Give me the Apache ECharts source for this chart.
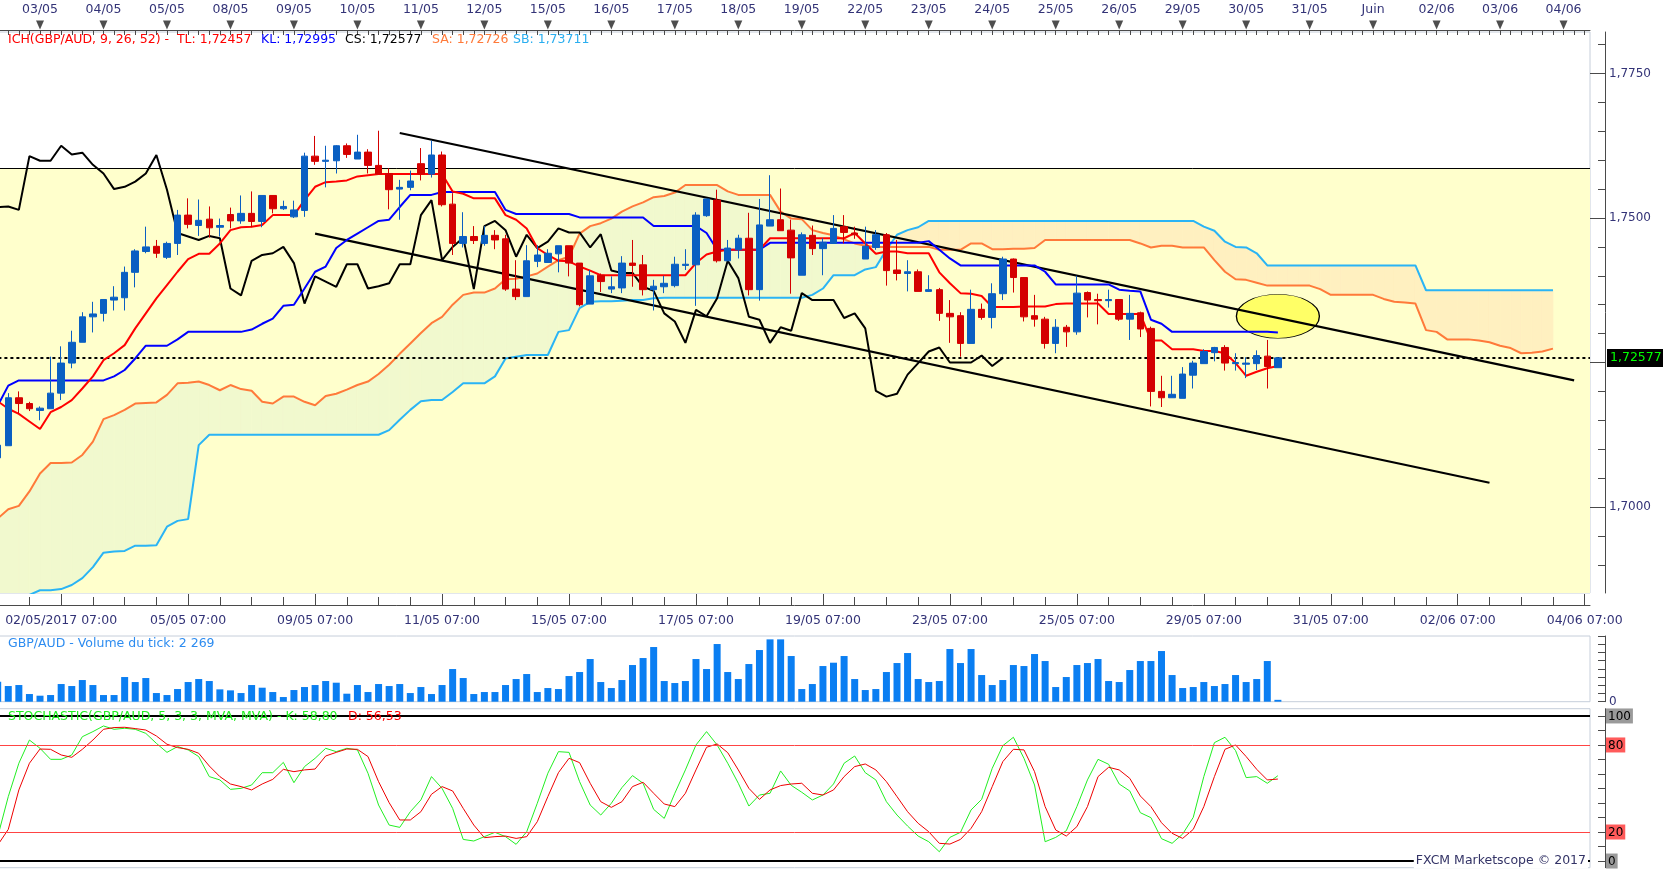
<!DOCTYPE html>
<html><head><meta charset="utf-8">
<script src="https://cdn.jsdelivr.net/npm/echarts@6/dist/echarts.min.js"></script>
<style>html,body{margin:0;padding:0;background:#fff}#c{width:1663px;height:870px}</style>
</head><body><div id="c"></div><script>
// ---- DATA (4-hour candles, index 0 = partially visible first bar) ----
const opens = [1.7085,1.7106,1.7189,1.7179,1.7167,1.7170,1.7197,1.7249,1.7285,1.7329,
1.7335,1.7358,1.7362,1.7406,1.7442,1.7451,1.7432,1.7456,1.7505,1.7487,
1.7498,1.7484,1.7506,1.7495,1.7508,1.7494,1.7539,1.7516,1.7502,1.7513,
1.7607,1.7598,1.7599,1.7625,1.7602,1.7614,1.7591,1.7577,1.7550,1.7553,
1.7594,1.7576,1.7609,1.7524,1.7456,1.7468,1.7456,1.7470,1.7464,1.7377,
1.7364,1.7425,1.7423,1.7438,1.7452,1.7422,1.7351,1.7401,1.7377,1.7379,
1.7422,1.7419,1.7376,1.7381,1.7383,1.7418,1.7419,1.7504,1.7531,1.7426,
1.7445,1.7465,1.7376,1.7486,1.7497,1.7479,1.7401,1.7470,1.7447,1.7456,
1.7485,1.7474,1.7429,1.7449,1.7471,1.7410,1.7404,1.7407,1.7373,1.7376,
1.7335,1.7331,1.7283,1.7342,1.7328,1.7369,1.7429,1.7397,1.7331,1.7325,
1.7283,1.7311,1.7303,1.7371,1.7359,1.7357,1.7359,1.7325,1.7336,1.7309,
1.7200,1.7189,1.7188,1.7228,1.7248,1.7267,1.7276,1.7248,1.7247,1.7248,
1.7261,1.7241];
const closes = [1.7107,1.7189,1.7179,1.7170,1.7171,1.7197,1.7249,1.7285,1.7329,1.7334,
1.7359,1.7363,1.7406,1.7443,1.7450,1.7439,1.7456,1.7505,1.7489,1.7496,
1.7483,1.7487,1.7495,1.7508,1.7494,1.7539,1.7516,1.7520,1.7514,1.7607,
1.7598,1.7600,1.7625,1.7610,1.7614,1.7591,1.7576,1.7549,1.7553,1.7564,
1.7576,1.7609,1.7523,1.7456,1.7468,1.7461,1.7470,1.7462,1.7377,1.7364,
1.7426,1.7436,1.7439,1.7452,1.7422,1.7350,1.7400,1.7390,1.7381,1.7422,
1.7418,1.7376,1.7382,1.7387,1.7420,1.7420,1.7505,1.7533,1.7426,1.7448,
1.7465,1.7376,1.7488,1.7497,1.7478,1.7431,1.7471,1.7447,1.7458,1.7482,
1.7475,1.7471,1.7451,1.7471,1.7409,1.7404,1.7407,1.7373,1.7376,1.7335,
1.7329,1.7283,1.7342,1.7328,1.7369,1.7429,1.7397,1.7329,1.7325,1.7283,
1.7311,1.7303,1.7370,1.7358,1.7357,1.7359,1.7325,1.7335,1.7308,1.7200,
1.7189,1.7195,1.7230,1.7249,1.7269,1.7276,1.7249,1.7250,1.7249,1.7262,
1.7243,1.7258];
const highs = [1.7108,1.7197,1.7200,1.7182,1.7174,1.7260,1.7278,1.7305,1.7337,1.7355,
1.7359,1.7382,1.7416,1.7446,1.7485,1.7462,1.7459,1.7514,1.7534,1.7532,
1.7520,1.7499,1.7518,1.7539,1.7546,1.7539,1.7539,1.7530,1.7530,1.7613,
1.7642,1.7625,1.7626,1.7629,1.7644,1.7619,1.7651,1.7586,1.7566,1.7582,
1.7621,1.7634,1.7615,1.7543,1.7510,1.7486,1.7486,1.7479,1.7471,1.7427,
1.7453,1.7453,1.7446,1.7452,1.7452,1.7422,1.7410,1.7404,1.7399,1.7434,
1.7462,1.7436,1.7393,1.7400,1.7433,1.7446,1.7510,1.7533,1.7549,1.7462,
1.7471,1.7509,1.7533,1.7574,1.7551,1.7497,1.7475,1.7487,1.7465,1.7505,
1.7505,1.7485,1.7485,1.7479,1.7474,1.7462,1.7427,1.7411,1.7401,1.7379,
1.7358,1.7337,1.7376,1.7352,1.7387,1.7433,1.7430,1.7397,1.7367,1.7329,
1.7325,1.7315,1.7400,1.7373,1.7369,1.7376,1.7359,1.7367,1.7338,1.7312,
1.7227,1.7227,1.7242,1.7253,1.7273,1.7277,1.7280,1.7266,1.7259,1.7271,
1.7289,1.7259];
const lows = [1.7080,1.7106,1.7162,1.7166,1.7150,1.7170,1.7185,1.7240,1.7285,1.7302,
1.7321,1.7340,1.7340,1.7380,1.7439,1.7431,1.7429,1.7436,1.7482,1.7469,
1.7466,1.7468,1.7482,1.7490,1.7484,1.7484,1.7508,1.7514,1.7500,1.7502,
1.7592,1.7553,1.7577,1.7604,1.7602,1.7577,1.7576,1.7515,1.7497,1.7548,
1.7565,1.7570,1.7520,1.7436,1.7449,1.7455,1.7452,1.7446,1.7374,1.7358,
1.7364,1.7415,1.7423,1.7406,1.7399,1.7347,1.7351,1.7372,1.7370,1.7370,
1.7381,1.7366,1.7340,1.7370,1.7380,1.7410,1.7348,1.7502,1.7423,1.7426,
1.7430,1.7366,1.7357,1.7486,1.7478,1.7369,1.7401,1.7436,1.7401,1.7455,
1.7456,1.7464,1.7429,1.7445,1.7383,1.7392,1.7373,1.7373,1.7372,1.7322,
1.7284,1.7260,1.7283,1.7324,1.7309,1.7358,1.7371,1.7321,1.7312,1.7274,
1.7266,1.7277,1.7298,1.7328,1.7316,1.7345,1.7322,1.7289,1.7294,1.7174,
1.7173,1.7189,1.7188,1.7205,1.7248,1.7252,1.7236,1.7236,1.7223,1.7237,
1.7205,1.7241];
const tenkan = [1.7183,1.7170,1.7161,1.7148,1.7135,1.7164,1.7173,1.7185,1.7205,1.7226,
1.7254,1.7266,1.7280,1.7309,1.7335,1.7361,1.7384,1.7407,1.7429,1.7438,
1.7438,1.7456,1.7479,1.7484,1.7485,1.7488,1.7505,1.7505,1.7505,1.7531,
1.7554,1.7562,1.7563,1.7565,1.7572,1.7574,1.7576,1.7576,1.7576,1.7576,
1.7576,1.7576,1.7576,1.7546,1.7542,1.7534,1.7534,1.7534,1.7505,1.7497,
1.7482,1.7448,1.7436,1.7426,1.7425,1.7416,1.7409,1.7401,1.7401,1.7401,
1.7401,1.7401,1.7401,1.7401,1.7401,1.7401,1.7422,1.7437,1.7442,1.7445,
1.7445,1.7445,1.7445,1.7465,1.7465,1.7465,1.7465,1.7465,1.7465,1.7465,
1.7465,1.7474,1.7456,1.7438,1.7442,1.7442,1.7439,1.7439,1.7439,1.7406,
1.7387,1.7370,1.7369,1.7365,1.7346,1.7346,1.7346,1.7347,1.7347,1.7347,
1.7351,1.7352,1.7352,1.7352,1.7352,1.7334,1.7334,1.7334,1.7334,1.7288,
1.7288,1.7273,1.7273,1.7273,1.7270,1.7270,1.7266,1.7249,1.7227,1.7234,
1.7240,1.7244];
const kijun = [1.7175,1.7210,1.7219,1.7219,1.7219,1.7219,1.7219,1.7219,1.7219,1.7219,
1.7219,1.7226,1.7237,1.7257,1.7279,1.7279,1.7279,1.7290,1.7303,1.7303,
1.7303,1.7303,1.7303,1.7303,1.7307,1.7317,1.7326,1.7348,1.7350,1.7378,
1.7407,1.7416,1.7448,1.7462,1.7473,1.7484,1.7495,1.7497,1.7519,1.7540,
1.7540,1.7540,1.7545,1.7545,1.7545,1.7545,1.7545,1.7545,1.7514,1.7507,
1.7507,1.7507,1.7507,1.7507,1.7507,1.7501,1.7501,1.7501,1.7501,1.7501,
1.7501,1.7501,1.7486,1.7486,1.7486,1.7486,1.7486,1.7474,1.7445,1.7445,
1.7445,1.7445,1.7445,1.7457,1.7457,1.7457,1.7457,1.7457,1.7457,1.7457,
1.7457,1.7457,1.7457,1.7457,1.7457,1.7457,1.7457,1.7457,1.7460,1.7445,
1.7430,1.7418,1.7418,1.7418,1.7418,1.7418,1.7418,1.7418,1.7418,1.7407,
1.7385,1.7385,1.7385,1.7385,1.7385,1.7385,1.7376,1.7374,1.7373,1.7324,
1.7317,1.7303,1.7303,1.7303,1.7303,1.7303,1.7303,1.7303,1.7303,1.7303,
1.7303,1.7302];
const chikou = [1.7519,1.7520,1.7514,1.7607,1.7599,1.7599,1.7625,1.7610,1.7613,1.7592,
1.7577,1.7550,1.7554,1.7563,1.7577,1.7609,1.7549,1.7474,1.7468,1.7462,
1.7469,1.7465,1.7378,1.7366,1.7426,1.7436,1.7439,1.7450,1.7422,1.7352,
1.7399,1.7390,1.7381,1.7420,1.7420,1.7378,1.7382,1.7387,1.7420,1.7420,
1.7505,1.7531,1.7427,1.7450,1.7466,1.7377,1.7486,1.7495,1.7479,1.7433,
1.7471,1.7448,1.7459,1.7482,1.7475,1.7475,1.7449,1.7472,1.7409,1.7405,
1.7405,1.7381,1.7374,1.7335,1.7321,1.7284,1.7341,1.7330,1.7361,1.7426,
1.7396,1.7329,1.7324,1.7284,1.7311,1.7305,1.7370,1.7358,1.7358,1.7358,
1.7327,1.7335,1.7309,1.7201,1.7191,1.7196,1.7229,1.7249,1.7269,1.7276,
1.7250,1.7250,1.7250,1.7262,1.7244,1.7258];
const senkouA = [1.6980,1.6996,1.7002,1.7027,1.7058,1.7076,1.7076,1.7077,1.7090,1.7113,
1.7152,1.7159,1.7168,1.7179,1.7180,1.7181,1.7194,1.7214,1.7215,1.7217,
1.7211,1.7202,1.7211,1.7204,1.7201,1.7182,1.7179,1.7191,1.7191,1.7182,
1.7176,1.7192,1.7196,1.7203,1.7211,1.7217,1.7230,1.7246,1.7265,1.7283,
1.7301,1.7318,1.7329,1.7350,1.7367,1.7371,1.7371,1.7378,1.7394,1.7395,
1.7399,1.7404,1.7416,1.7427,1.7433,1.7473,1.7486,1.7491,1.7499,1.7511,
1.7520,1.7527,1.7536,1.7538,1.7544,1.7557,1.7557,1.7557,1.7557,1.7546,
1.7540,1.7540,1.7540,1.7540,1.7511,1.7499,1.7498,1.7479,1.7474,1.7470,
1.7463,1.7456,1.7452,1.7450,1.7450,1.7450,1.7450,1.7450,1.7450,1.7445,
1.7445,1.7445,1.7456,1.7456,1.7446,1.7446,1.7447,1.7447,1.7448,1.7462,
1.7462,1.7462,1.7462,1.7462,1.7462,1.7462,1.7462,1.7462,1.7456,1.7449,
1.7452,1.7452,1.7449,1.7449,1.7449,1.7427,1.7407,1.7394,1.7393,1.7388,
1.7383,1.7383,1.7383,1.7383,1.7383,1.7377,1.7367,1.7367,1.7367,1.7367,
1.7367,1.7360,1.7355,1.7354,1.7352,1.7306,1.7303,1.7290,1.7290,1.7290,
1.7288,1.7285,1.7279,1.7275,1.7266,1.7267,1.7269,1.7274];
const senkouB = [1.6840,1.6840,1.6840,1.6848,1.6856,1.6856,1.6858,1.6865,1.6877,1.6896,
1.6921,1.6923,1.6924,1.6933,1.6933,1.6934,1.6966,1.6976,1.6979,1.7107,
1.7125,1.7125,1.7125,1.7125,1.7125,1.7125,1.7125,1.7125,1.7125,1.7125,
1.7125,1.7125,1.7125,1.7125,1.7125,1.7125,1.7125,1.7133,1.7151,1.7168,
1.7183,1.7185,1.7185,1.7199,1.7214,1.7214,1.7214,1.7226,1.7257,1.7260,
1.7263,1.7263,1.7263,1.7303,1.7306,1.7344,1.7355,1.7356,1.7356,1.7357,
1.7358,1.7358,1.7361,1.7362,1.7362,1.7362,1.7362,1.7362,1.7362,1.7362,
1.7362,1.7362,1.7362,1.7362,1.7362,1.7362,1.7362,1.7367,1.7378,1.7401,
1.7401,1.7401,1.7411,1.7415,1.7445,1.7471,1.7479,1.7484,1.7495,1.7495,
1.7495,1.7495,1.7495,1.7495,1.7495,1.7495,1.7495,1.7495,1.7495,1.7495,
1.7495,1.7495,1.7495,1.7495,1.7495,1.7495,1.7495,1.7495,1.7495,1.7495,
1.7495,1.7495,1.7495,1.7495,1.7485,1.7478,1.7459,1.7450,1.7449,1.7439,
1.7418,1.7418,1.7418,1.7418,1.7418,1.7418,1.7418,1.7418,1.7418,1.7418,
1.7418,1.7418,1.7418,1.7418,1.7418,1.7375,1.7375,1.7375,1.7375,1.7375,
1.7375,1.7375,1.7375,1.7375,1.7375,1.7375,1.7375,1.7375];
const volumes = [24350,19080,20300,9340,7310,8120,21510,19080,26380,20300,
8120,8120,30040,23950,28820,10550,8120,15420,23950,27600,
25170,15020,13800,10550,20300,17050,11770,5680,14210,17860,
20300,25170,23140,9740,20300,11770,21510,19080,21510,10550,
17860,9340,20300,39780,28820,9340,11770,11770,20300,27600,
33690,11770,16640,15420,31250,36130,51960,23950,16640,26380,
44650,53170,66570,25170,22730,25170,51960,39780,70220,36130,
27600,45870,62910,75900,75900,55610,15420,21510,43430,47490,
55610,27600,14210,15420,36130,47080,59260,27600,23950,25170,
64130,47080,64130,32470,20300,26380,44650,43430,58040,49520,
17860,30040,44650,47080,51960,25170,23950,38560,49520,49520,
61700,32470,16640,17860,23950,19080,21510,32470,23950,27600,
49520,2269];
const stochK = [16.8,44.4,67.4,83.4,77.7,70.1,70.1,73.1,85.7,89.2,
93.1,90.8,91.5,90.8,88.0,81.1,74.9,78.9,76.6,72.0,
58.2,55.9,49.4,50.1,52.4,60.9,60.9,68.0,54.0,65.1,
70.8,77.7,75.4,77.7,76.6,60.5,38.6,24.8,23.2,34.0,
42.1,58.2,50.1,36.3,14.9,13.8,16.8,19.8,16.8,11.5,
20.2,39.8,60.5,75.4,74.9,54.7,38.6,31.7,39.8,50.6,
58.9,53.6,35.6,29.4,46.7,62.8,80.0,89.2,80.0,67.4,
53.6,37.9,45.5,46.7,62.1,52.2,47.4,42.1,45.5,53.1,
67.4,72.4,60.9,55.9,40.9,31.7,24.1,17.2,13.3,6.4,
16.3,19.8,35.2,42.5,63.9,79.5,85.3,70.8,52.4,13.3,
16.3,20.9,37.5,55.9,70.1,66.7,53.1,48.3,33.3,29.9,
15.4,12.2,18.6,30.1,58.2,81.6,85.3,76.1,57.5,58.2,
53.6,58.8];
const stochD = [11.0,21.8,49.0,67.4,77.2,77.0,73.1,71.5,77.0,83.4,
90.8,92.0,92.2,91.3,90.3,86.2,80.5,78.2,77.0,74.3,
65.5,58.2,53.1,51.3,49.0,53.1,56.3,63.2,61.6,62.8,
63.4,72.4,74.9,77.2,77.0,72.0,54.7,40.2,28.3,28.3,
34.0,46.0,51.3,48.3,36.3,24.8,16.1,16.8,17.2,15.6,
16.8,27.1,44.4,60.9,70.8,67.8,53.6,40.9,37.0,40.9,
51.3,54.3,46.7,39.3,37.5,46.7,62.8,78.4,80.7,74.7,
62.8,50.1,42.5,49.0,52.0,53.1,53.6,46.7,45.5,49.0,
58.2,65.1,66.9,62.8,54.7,44.4,34.0,26.0,20.2,12.2,
11.7,14.9,22.5,34.0,51.3,68.5,77.0,76.6,61.6,37.5,
21.4,17.2,23.7,37.5,58.2,64.6,62.8,57.0,44.8,37.5,
26.4,19.1,15.6,21.8,37.5,58.2,77.0,80.0,72.0,63.2,
55.9,56.5];
const topDayLabels = ['03/05','04/05','05/05','08/05','09/05','10/05','11/05','12/05','15/05','16/05','17/05','18/05','19/05','22/05','23/05','24/05','25/05','26/05','29/05','30/05','31/05','Juin','02/06','03/06','04/06'];
const bottomTimeLabels = ['02/05/2017 07:00','05/05 07:00','09/05 07:00','11/05 07:00','15/05 07:00','17/05 07:00','19/05 07:00','23/05 07:00','25/05 07:00','29/05 07:00','31/05 07:00','02/06 07:00','04/06 07:00'];
const upperTrend = [[38, 1.7647], [149, 1.7219]];
const lowerTrend = [[30, 1.7473], [141, 1.7042]];
const resistance = 1.75865;
const lastPrice = 1.72577;
const highlight = [[121, 1.7330]];
const priceMajorTicks = [1.700, 1.725, 1.750, 1.775];
const priceLabelValues = [1.700, 1.750, 1.775];
const priceMinorTicks = [1.690,1.695,1.700,1.705,1.710,1.715,1.720,1.725,1.730,1.735,1.740,1.745,1.750,1.755,1.760,1.765,1.770,1.775,1.780];
const stochTicks = [0,10,20,30,40,50,60,70,80,90,100];
const stochLabelValues = [0,20,80,100];
const legendIch = [
  {text:'ICH(GBP/AUD, 9, 26, 52) -  TL: 1,72457', color:'#FF0000', x:8},
  {text:'KL: 1,72995', color:'#0000FF', x:261},
  {text:'CS: 1,72577', color:'#000000', x:345},
  {text:'SA: 1,72726', color:'#FF7A3A', x:432},
  {text:'SB: 1,73711', color:'#2AAEF0', x:513}
];

// ---- LAYOUT ----
const N = 151;
const cats = Array.from({length: N}, (_, i) => String(i));
const GL = -7.6, GW = 1597.6;
const FONT = '"DejaVu Sans", Verdana, sans-serif';
const LBL = '#333377';
const AX = '#4a4a4a';
const FRAME = '#C6CEDA';

const candleData = opens.map((o, i) => [o, closes[i], lows[i], highs[i]]);
const cloudData = [];
for (let i = 0; i < senkouA.length - 1; i++) cloudData.push([i, senkouA[i], senkouB[i], senkouA[i+1], senkouB[i+1]]);
const dayIdx = topDayLabels.map((_, d) => [4 + 6 * d, 0.5]);
const fmtPrice = (v, d) => v.toFixed(d).replace('.', ',');

const hiddenCat = (gi) => ({type:'category', gridIndex: gi, data: cats, boundaryGap: true, show: false});

const chart = echarts.init(document.getElementById('c'));
chart.setOption({
  animation: false,
  backgroundColor: '#ffffff',
  textStyle: {fontFamily: FONT},
  grid: [
    {left: GL, width: GW, top: 32, height: 561, show: true, borderColor: FRAME, borderWidth: 1, backgroundColor: '#ffffff', containLabel: false, outerBoundsMode: 'none'},
    {left: GL, width: GW, top: 20, height: 10, show: false, containLabel: false, outerBoundsMode: 'none'},
    {left: GL, width: GW, top: 636, height: 65.7, show: true, borderColor: FRAME, borderWidth: 1, containLabel: false, outerBoundsMode: 'none'},
    {left: GL, width: GW, top: 708.7, height: 159, show: true, borderColor: FRAME, borderWidth: 1, containLabel: false, outerBoundsMode: 'none'}
  ],
  xAxis: [
    {type:'category', gridIndex:0, data: cats, boundaryGap:true, position:'bottom', offset:12,
     axisLine:{show:true, lineStyle:{color:AX}},
     axisTick:{show:true, inside:true, length:8, alignWithLabel:true, interval:(i)=> i % 3 === 0, lineStyle:{color:AX}},
     axisLabel:{show:true, interval:(i)=> i >= 6 && (i - 6) % 12 === 0, margin:9, color:LBL, fontSize:12.5, fontFamily:FONT,
       formatter:(v, i)=> bottomTimeLabels[(i - 6) / 12] || ''},
     splitLine:{show:false}},
    {type:'category', gridIndex:0, data: cats, boundaryGap:true, position:'bottom', offset:12,
     axisLine:{show:false}, axisLabel:{show:false}, splitLine:{show:false},
     axisTick:{show:true, inside:true, length:11, alignWithLabel:true, interval:(i)=> i >= 6 && (i - 6) % 12 === 0, lineStyle:{color:AX}}},
    {type:'category', gridIndex:1, data: cats, boundaryGap:true, position:'top',
     axisLine:{show:true, lineStyle:{color:AX}},
     axisTick:{show:true, inside:true, length:5, alignWithLabel:true, interval:0, lineStyle:{color:AX}},
     axisLabel:{show:true, interval:(i)=> i >= 4 && (i - 4) % 6 === 0, margin:4, color:LBL, fontSize:12.5, fontFamily:FONT,
       formatter:(v, i)=> topDayLabels[(i - 4) / 6] || ''},
     splitLine:{show:false}},
    hiddenCat(2),
    hiddenCat(3)
  ],
  yAxis: [
    {type:'value', gridIndex:0, position:'right', offset:15, min:1.68512, max:1.78218, scale:true,
     axisLine:{show:true, lineStyle:{color:AX}},
     axisTick:{show:true, inside:true, length:15, customValues: priceMajorTicks, lineStyle:{color:AX}},
     axisLabel:{show:true, customValues: priceLabelValues, margin:4, color:LBL, fontSize:12, fontFamily:FONT, formatter: v => fmtPrice(v, 4)},
     splitLine:{show:false}},
    {type:'value', gridIndex:0, position:'right', offset:15, min:1.68512, max:1.78218, scale:true,
     axisLine:{show:false}, axisLabel:{show:false}, splitLine:{show:false},
     axisTick:{show:true, inside:true, length:7, customValues: priceMinorTicks, lineStyle:{color:AX}}},
    {type:'value', gridIndex:1, min:0, max:1, show:false},
    {type:'value', gridIndex:2, position:'right', offset:15, min:0, max:80000, interval:10000,
     axisLine:{show:true, lineStyle:{color:AX}},
     axisTick:{show:true, inside:true, length:7, lineStyle:{color:AX}},
     axisLabel:{show:true, margin:4, color:LBL, fontSize:12, fontFamily:FONT, formatter: v => v === 0 ? '0' : ''},
     splitLine:{show:false}},
    {type:'value', gridIndex:3, position:'right', offset:15, min:-4.6, max:105,
     axisLine:{show:true, lineStyle:{color:AX}},
     axisTick:{show:true, inside:true, length:7, customValues: stochTicks, lineStyle:{color:AX}},
     axisLabel:{show:true, customValues: stochLabelValues, margin:1, fontSize:12, fontFamily:FONT,
       formatter: v => (v === 0 || v === 100) ? '{g|' + v + '}' : '{r|' + v + '}',
       rich:{g:{backgroundColor:'#9a9a9a', color:'#000', padding:[2,2,1,2], fontSize:12, fontFamily:FONT},
             r:{backgroundColor:'#FF5A5A', color:'#000', padding:[2,2,1,2], fontSize:12, fontFamily:FONT}}},
     splitLine:{show:false}}
  ],
  graphic: legendIch.map(l => ({type:'text', x:l.x, y:40, z:50,
      style:{text:l.text, fill:l.color, font:'12.5px ' + FONT, verticalAlign:'middle', align:'left'}})).concat([
    {type:'text', x:8, y:644, z:50, style:{text:'GBP/AUD - Volume du tick: 2 269', fill:'#2D8CF0', font:'12.5px ' + FONT, verticalAlign:'middle'}},
    {type:'text', x:8, y:717, z:50, style:{text:'STOCHASTIC(GBP/AUD, 5, 3, 3, MVA, MVA) - K: 58,80', fill:'#22EE22', font:'12.5px ' + FONT, verticalAlign:'middle'}},
    {type:'text', x:348, y:717, z:50, style:{text:'D: 56,53', fill:'#FF0000', font:'12.5px ' + FONT, verticalAlign:'middle'}},
    {type:'text', x:1588, y:861, z:50, style:{text:'FXCM Marketscope © 2017', fill:'#333366', font:'12.5px ' + FONT, verticalAlign:'middle', align:'right', backgroundColor:'#ffffff', padding:[1,2]}}
  ]),
  series: [
    {name:'bg', type:'line', xAxisIndex:0, yAxisIndex:0, data:[], z:0, silent:true,
     markArea:{silent:true, itemStyle:{color:'#FFFFCC'}, data:[[{yAxis:1.68512},{yAxis:resistance}]]},
     markLine:{silent:true, precision:5, symbol:['none','none'], label:{show:false}, lineStyle:{color:'#000', width:1, type:'solid'}, data:[{yAxis:resistance}]}},
    {name:'cloud', type:'custom', xAxisIndex:0, yAxisIndex:0, z:1, silent:true, data: cloudData,
     encode:{x:0, y:[1,2,3,4]},
     renderItem:(params, api)=>{
       const j = api.value(0), a0 = api.value(1), b0 = api.value(2), a1 = api.value(3), b1 = api.value(4);
       const pts = [api.coord([j, a0]), api.coord([j+1, a1]), api.coord([j+1, b1]), api.coord([j, b0])];
       const col = (a0 + a1) >= (b0 + b1) ? '#F1F9CE' : '#FFF0C0';
       const cs = params.coordSys;
       return {type:'polygon', shape:{points:pts}, style:{fill:col, stroke:col, lineWidth:0.8},
               clipPath:{type:'rect', shape:{x:cs.x, y:cs.y, width:cs.width, height:cs.height}}};
     }},
    {name:'SA', type:'line', xAxisIndex:0, yAxisIndex:0, data: senkouA, z:2, showSymbol:false, symbol:'none', lineStyle:{color:'#FF7A3A', width:2}},
    {name:'SB', type:'line', xAxisIndex:0, yAxisIndex:0, data: senkouB, z:2, showSymbol:false, symbol:'none', lineStyle:{color:'#2AB4F5', width:2}},
    {name:'ellipse', type:'scatter', xAxisIndex:0, yAxisIndex:0, data: highlight, z:3,
     symbol:'path://M0,50 A50,50 0 1,1 100,50 A50,50 0 1,1 0,50 Z', symbolSize:[83,44],
     itemStyle:{color:'#FFFF66', borderColor:'#000', borderWidth:1, opacity:1}},
    {name:'chikou', type:'line', xAxisIndex:0, yAxisIndex:0, data: chikou, z:4, showSymbol:false, symbol:'none', lineStyle:{color:'#000', width:2}},
    {name:'upper', type:'line', xAxisIndex:0, yAxisIndex:0, data: upperTrend, z:4, showSymbol:false, symbol:'none', lineStyle:{color:'#000', width:2.2}},
    {name:'lower', type:'line', xAxisIndex:0, yAxisIndex:0, data: lowerTrend, z:4, showSymbol:false, symbol:'none', lineStyle:{color:'#000', width:2.2}},
    {name:'kijun', type:'line', xAxisIndex:0, yAxisIndex:0, data: kijun, z:5, showSymbol:false, symbol:'none', lineStyle:{color:'#0000FF', width:2}},
    {name:'tenkan', type:'line', xAxisIndex:0, yAxisIndex:0, data: tenkan, z:5, showSymbol:false, symbol:'none', lineStyle:{color:'#FF0000', width:2}},
    {name:'candles', type:'candlestick', xAxisIndex:0, yAxisIndex:0, data: candleData, z:6, barWidth:7,
     itemStyle:{color:'#0A5FC2', color0:'#D40000', borderColor:'#0A5FC2', borderColor0:'#D40000', borderWidth:1},
     markLine:{silent:true, precision:5, symbol:['none','none'], lineStyle:{color:'#000', width:2, type:[3,3]},
       label:{show:true, position:'end', distance:17, formatter: fmtPrice(lastPrice, 5), color:'#00FF00', backgroundColor:'#000', padding:[3,3,2,3], fontSize:12.5, fontFamily:FONT},
       data:[{yAxis:lastPrice}]}},
    {name:'triangles', type:'scatter', xAxisIndex:2, yAxisIndex:2, data: dayIdx, symbol:'triangle', symbolRotate:180, symbolSize:[8,9], itemStyle:{color:'#222'}, silent:true},
    {name:'volume', type:'bar', xAxisIndex:3, yAxisIndex:3, data: volumes, barWidth:7, itemStyle:{color:'#0A7EF2'}, silent:true},
    {name:'K', type:'line', xAxisIndex:4, yAxisIndex:4, data: stochK, showSymbol:false, symbol:'none', lineStyle:{color:'#22EE22', width:1}, z:3,
     markLine:{silent:true, precision:2, symbol:['none','none'], label:{show:false},
       data:[{yAxis:100, lineStyle:{color:'#000', width:2, type:'solid'}}, {yAxis:0, lineStyle:{color:'#000', width:2, type:'solid'}},
             {yAxis:80, lineStyle:{color:'#FF4444', width:1, type:'solid'}}, {yAxis:20, lineStyle:{color:'#FF4444', width:1, type:'solid'}}]}},
    {name:'D', type:'line', xAxisIndex:4, yAxisIndex:4, data: stochD, showSymbol:false, symbol:'none', lineStyle:{color:'#EE0000', width:1}, z:4}
  ]
});
</script></body></html>
